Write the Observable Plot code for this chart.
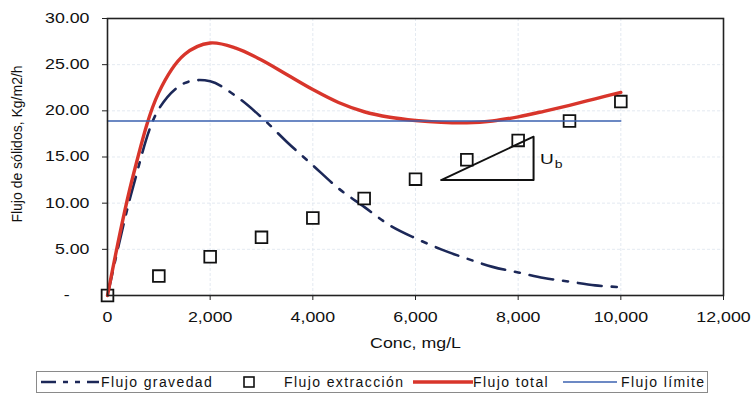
<!DOCTYPE html>
<html>
<head>
<meta charset="utf-8">
<script src="https://cdn.jsdelivr.net/npm/d3@7"></script>
<script src="https://cdn.jsdelivr.net/npm/@observablehq/plot@0.6"></script>
<style>
  html, body { margin: 0; padding: 0; background: #fff; }
  #wrap { position: relative; width: 752px; height: 395px; font-family: "Liberation Sans", Arial, sans-serif; color: #111; }
  #wrap svg text { font-family: "Liberation Sans", Arial, sans-serif !important; }
  #legend { position: absolute; left: 36px; top: 371px; width: 672px; height: 22px; border: 1px solid #8a8a8a; box-sizing: border-box; font-size: 14px; }
  #legend .item { position: absolute; top: 2px; white-space: nowrap; letter-spacing: 1.4px; line-height: 16px; }
  #legend svg { position: absolute; }
</style>
</head>
<body>
<div id="wrap"></div>
<script>
// ---- data ----
const conc = [0, 500, 1000, 1500, 2000, 2500, 3000, 3500, 4000, 4500, 5000, 5500, 6000, 6500, 7000, 7500, 8000, 8500, 9000, 9500, 10000];
const flujoGravedad = [0, 11.8, 20.2, 23.0, 23.2, 21.6, 19.3, 16.6, 14.1, 11.6, 9.6, 7.6, 6.2, 5.0, 4.0, 3.1, 2.5, 1.9, 1.5, 1.1, 0.9];
const flujoTotal = [0, 13.0, 22.0, 26.1, 27.35, 26.8, 25.5, 23.9, 22.3, 20.9, 19.9, 19.3, 18.95, 18.75, 18.7, 18.9, 19.35, 19.95, 20.6, 21.3, 22.0];
const concExtraccion = [0, 1000, 2000, 3000, 4000, 5000, 6000, 7000, 8000, 9000, 10000];
const flujoExtraccion = [0, 2.1, 4.2, 6.3, 8.4, 10.5, 12.6, 14.7, 16.8, 18.9, 21.0];
const concLimite = [0, 10000];
const flujoLimite = [18.9, 18.9];
const trianguloConc = [6500, 8300, 8300, 6500];
const trianguloFlujo = [12.5, 12.5, 17.2, 12.5];
const xTicks = [0, 2000, 4000, 6000, 8000, 10000, 12000];
const yTicks = [0, 5, 10, 15, 20, 25, 30];
const legendLabels = ["Flujo gravedad", "Flujo extracción", "Flujo total", "Flujo límite"];

const gravData = conc.map((c, i) => ({c, f: flujoGravedad[i]}));
const totData = conc.map((c, i) => ({c, f: flujoTotal[i]}));
const extData = concExtraccion.map((c, i) => ({c, f: flujoExtraccion[i]}));
const limData = concLimite.map((c, i) => ({c, f: flujoLimite[i]}));
const triData = trianguloConc.map((c, i) => ({c, f: trianguloFlujo[i]}));

const navy = "#1c2858", red = "#d8352b", blue = "#3b62b0";
const yTitle = "Flujo de sólidos, Kg/m2/h";

const chart = Plot.plot({
  width: 752, height: 360,
  marginLeft: 107, marginRight: 29, marginTop: 18, marginBottom: 65,
  x: {domain: [0, 12000]},
  y: {domain: [0, 30]},
  style: {fontFamily: "Liberation Sans, Arial, sans-serif", fontSize: "14px", color: "#111", background: "#fff"},
  marks: [
    Plot.gridX(xTicks, {stroke: "#dde5ee", strokeOpacity: 0.8, strokeDasharray: "3,2"}),
    Plot.gridY(yTicks, {stroke: "#dde5ee", strokeOpacity: 0.8, strokeDasharray: "3,2"}),
    Plot.axisX(xTicks, {tickFormat: d3.format(","), tickSize: 5, tickPadding: 12, label: null, fontSize: 14, stroke: "#222"}),
    Plot.axisY(yTicks, {tickFormat: d => d === 0 ? "-\u00a0\u00a0\u00a0\u00a0" : d.toFixed(2), tickSize: 5, tickPadding: 13, label: null, fontSize: 14, stroke: "#222"}),
    Plot.line(gravData, {x: "c", y: "f", stroke: navy, strokeWidth: 2.6, strokeDasharray: "24,10,5,10", curve: "catmull-rom"}),
    Plot.dot(extData, {x: "c", y: "f", symbol: "square", r: 6.6, fill: "#fff", stroke: "#111", strokeWidth: 1.8}),
    Plot.line(totData, {x: "c", y: "f", stroke: red, strokeWidth: 3.4, curve: "catmull-rom"}),
    Plot.line(limData, {x: "c", y: "f", stroke: blue, strokeWidth: 1.3}),
    Plot.line(triData, {x: "c", y: "f", stroke: "#111", strokeWidth: 2}),
    Plot.text(["U"], {x: 8560, y: 14.8, text: d => d, fontSize: 15, textAnchor: "middle", lineAnchor: "middle", fill: "#111"}),
    Plot.text(["b"], {x: 8790, y: 14.2, text: d => d, fontSize: 11, textAnchor: "middle", lineAnchor: "middle", fill: "#111"}),
    Plot.text(["Conc, mg/L"], {frameAnchor: "bottom", dy: 48, text: d => d, fontSize: 14, lineAnchor: "middle"}),
    Plot.text([yTitle], {frameAnchor: "left", dx: -90, dy: -13, rotate: -90, text: d => d, fontSize: 14, lineAnchor: "middle", textAnchor: "middle"}),
    Plot.frame({stroke: "#222", strokeWidth: 1.6})
  ]
});

const wrap = document.getElementById("wrap");
wrap.appendChild(chart);

// the scanned reference is stretched horizontally: widen horizontal texts
d3.select(chart).selectAll("text").each(function () {
  if (this.textContent === yTitle) return;
  const w = this.getComputedTextLength();
  if (w > 0) {
    this.setAttribute("textLength", (w * 1.27).toFixed(1));
    this.setAttribute("lengthAdjust", "spacingAndGlyphs");
  }
});

// legend
const legend = document.createElement("div");
legend.id = "legend";
legend.innerHTML = `
  <svg style="left:4px;top:0" width="60" height="20"><line x1="0" y1="10" x2="58" y2="10" stroke="${navy}" stroke-width="2.4" stroke-dasharray="15,7,5,7,5,7"/></svg>
  <span class="item" style="left:64px">${legendLabels[0]}</span>
  <svg style="left:205px;top:0" width="16" height="20"><rect x="2" y="5" width="10" height="10" fill="#fff" stroke="#111" stroke-width="1.6"/></svg>
  <span class="item" style="left:247px">${legendLabels[1]}</span>
  <svg style="left:376px;top:0" width="60" height="20"><line x1="0" y1="10" x2="60" y2="10" stroke="${red}" stroke-width="3.4"/></svg>
  <span class="item" style="left:436px">${legendLabels[2]}</span>
  <svg style="left:526px;top:0" width="56" height="20"><line x1="0" y1="10" x2="54" y2="10" stroke="${blue}" stroke-width="1.3"/></svg>
  <span class="item" style="left:584px">${legendLabels[3]}</span>
`;
wrap.appendChild(legend);
</script>
</body>
</html>
